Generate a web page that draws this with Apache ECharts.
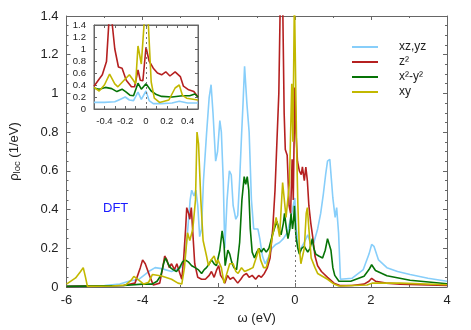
<!DOCTYPE html>
<html>
<head>
<meta charset="utf-8">
<script src="https://cdn.jsdelivr.net/npm/echarts@6/dist/echarts.min.js"></script>
<style>
  html, body { margin: 0; padding: 0; background: #fff; }
  #main { width: 471px; height: 330px; }
</style>
</head>
<body>
<div id="main"></div>
<script>
// series names (legend)
const names = ['xz,yz', 'z²', 'x²-y²', 'xy'];
const colors = ['#87cefa', '#b52020', '#067306', '#c2b800'];

// main panel, [omega (eV), rho]
const xzyz = [[-6,0.005],[-5,0.008],[-4.6,0.015],[-4.36,0.03],[-4.1,0.04],[-3.84,0.08],[-3.67,0.1],[-3.5,0.095],[-3.24,0.08],[-3.0,0.1],[-2.9,0.13],[-2.82,0.28],[-2.75,0.45],[-2.71,0.5],[-2.65,0.47],[-2.6,0.5],[-2.55,0.42],[-2.5,0.26],[-2.45,0.3],[-2.4,0.55],[-2.32,0.79],[-2.25,0.98],[-2.2,1.045],[-2.15,0.9],[-2.08,0.65],[-2.03,0.7],[-1.97,0.86],[-1.93,0.8],[-1.88,0.55],[-1.84,0.2],[-1.78,0.45],[-1.72,0.6],[-1.67,0.58],[-1.62,0.42],[-1.55,0.35],[-1.5,0.37],[-1.45,0.55],[-1.4,0.78],[-1.36,0.95],[-1.32,1.14],[-1.29,1.15],[-1.26,0.95],[-1.23,0.96],[-1.2,0.8],[-1.14,0.45],[-1.08,0.3],[-0.97,0.3],[-0.92,0.25],[-0.85,0.16],[-0.78,0.12],[-0.7,0.15],[-0.6,0.2],[-0.5,0.22],[-0.4,0.23],[-0.3,0.25],[-0.2,0.28],[-0.1,0.36],[-0.04,0.42],[0,0.46],[0.04,0.3],[0.1,0.2],[0.16,0.2],[0.25,0.23],[0.34,0.27],[0.42,0.22],[0.5,0.23],[0.6,0.3],[0.68,0.38],[0.75,0.48],[0.81,0.58],[0.86,0.65],[0.92,0.66],[0.96,0.56],[1.0,0.46],[1.06,0.36],[1.1,0.41],[1.13,0.4],[1.15,0.28],[1.2,0.04],[1.5,0.045],[1.8,0.09],[1.95,0.17],[2.02,0.22],[2.08,0.21],[2.2,0.14],[2.42,0.1],[2.7,0.08],[3.03,0.065],[3.5,0.045],[4,0.03]];
const z2 = [[-6,0.003],[-4.5,0.008],[-4.2,0.02],[-4.06,0.1],[-4.0,0.14],[-3.93,0.12],[-3.82,0.06],[-3.72,0.01],[-3.55,0.02],[-3.47,0.1],[-3.42,0.16],[-3.36,0.14],[-3.3,0.1],[-3.24,0.12],[-3.16,0.09],[-3.1,0.12],[-3.02,0.07],[-2.97,0.04],[-2.92,0.15],[-2.87,0.3],[-2.84,0.41],[-2.79,0.38],[-2.76,0.35],[-2.72,0.41],[-2.68,0.28],[-2.63,0.12],[-2.55,0.05],[-2.45,0.04],[-2.35,0.04],[-2.25,0.06],[-2.19,0.08],[-2.12,0.05],[-2.05,0.09],[-2.0,0.11],[-1.95,0.06],[-1.88,0.04],[-1.84,0.02],[-1.77,0.06],[-1.7,0.04],[-1.62,0.05],[-1.5,0.02],[-1.42,0.04],[-1.35,0.06],[-1.27,0.07],[-1.2,0.05],[-1.12,0.06],[-1.03,0.04],[-0.95,0.06],[-0.88,0.05],[-0.8,0.07],[-0.72,0.1],[-0.65,0.15],[-0.58,0.3],[-0.52,0.5],[-0.47,0.75],[-0.42,1.0],[-0.38,1.5],[-0.32,1.5],[-0.28,0.9],[-0.25,0.71],[-0.2,0.68],[-0.15,0.42],[-0.11,0.38],[-0.07,0.66],[-0.04,0.45],[-0.02,0.45],[0.0,1.03],[0.03,0.8],[0.07,0.65],[0.12,0.6],[0.17,0.58],[0.2,0.62],[0.25,0.55],[0.29,0.62],[0.33,0.55],[0.37,0.42],[0.42,0.33],[0.47,0.26],[0.53,0.16],[0.6,0.11],[0.7,0.08],[0.86,0.05],[1.03,0.02],[1.2,0.007],[1.5,0.008],[1.82,0.015],[1.95,0.03],[2.02,0.045],[2.12,0.03],[2.4,0.02],[2.77,0.015],[4,0.008]];
const x2y2 = [[-6,0.003],[-4.5,0.008],[-4.0,0.015],[-3.75,0.015],[-3.62,0.03],[-3.52,0.06],[-3.45,0.12],[-3.4,0.15],[-3.33,0.12],[-3.27,0.1],[-3.2,0.09],[-3.11,0.08],[-3.03,0.1],[-2.95,0.13],[-2.88,0.14],[-2.8,0.13],[-2.71,0.11],[-2.62,0.1],[-2.54,0.09],[-2.45,0.07],[-2.38,0.09],[-2.32,0.1],[-2.25,0.12],[-2.19,0.14],[-2.12,0.12],[-2.06,0.11],[-1.97,0.19],[-1.91,0.29],[-1.86,0.22],[-1.83,0.11],[-1.76,0.19],[-1.71,0.17],[-1.66,0.13],[-1.6,0.1],[-1.53,0.09],[-1.45,0.23],[-1.39,0.45],[-1.33,0.57],[-1.29,0.53],[-1.25,0.57],[-1.21,0.5],[-1.17,0.3],[-1.12,0.18],[-1.06,0.15],[-1.0,0.18],[-0.94,0.2],[-0.88,0.18],[-0.82,0.2],[-0.75,0.18],[-0.68,0.2],[-0.6,0.26],[-0.54,0.3],[-0.47,0.34],[-0.42,0.3],[-0.36,0.27],[-0.3,0.33],[-0.27,0.38],[-0.22,0.3],[-0.18,0.25],[-0.13,0.3],[-0.1,0.38],[-0.06,0.3],[-0.03,0.35],[-0.01,0.42],[0.03,0.26],[0.08,0.2],[0.12,0.17],[0.18,0.2],[0.25,0.21],[0.3,0.2],[0.34,0.18],[0.4,0.2],[0.46,0.25],[0.5,0.2],[0.55,0.17],[0.63,0.16],[0.73,0.15],[0.8,0.19],[0.86,0.25],[0.9,0.24],[0.95,0.19],[1.0,0.1],[1.05,0.06],[1.16,0.03],[1.47,0.03],[1.82,0.056],[1.95,0.09],[2.02,0.115],[2.12,0.085],[2.42,0.058],[3.03,0.035],[4,0.017]];
const xy = [[-6,0.015],[-5.76,0.047],[-5.63,0.08],[-5.56,0.1],[-5.5,0.05],[-5.45,0.003],[-4.8,0.005],[-4.45,0.01],[-4.3,0.035],[-4.23,0.055],[-4.1,0.035],[-3.97,0.015],[-3.84,0.025],[-3.74,0.065],[-3.5,0.057],[-3.24,0.04],[-3.07,0.02],[-2.97,0.015],[-2.9,0.1],[-2.82,0.28],[-2.76,0.24],[-2.68,0.3],[-2.61,0.45],[-2.57,0.8],[-2.53,0.74],[-2.47,0.45],[-2.41,0.24],[-2.32,0.16],[-2.27,0.11],[-2.2,0.14],[-2.12,0.16],[-2.06,0.12],[-2.02,0.14],[-1.93,0.1],[-1.86,0.02],[-1.8,0.06],[-1.71,0.12],[-1.62,0.12],[-1.55,0.08],[-1.49,0.07],[-1.4,0.1],[-1.32,0.08],[-1.2,0.09],[-1.1,0.1],[-1.0,0.16],[-0.95,0.2],[-0.9,0.14],[-0.82,0.1],[-0.75,0.1],[-0.67,0.16],[-0.6,0.25],[-0.49,0.36],[-0.4,0.26],[-0.32,0.54],[-0.23,0.36],[-0.14,0.54],[-0.08,1.05],[-0.05,0.75],[-0.01,1.5],[0.02,1.5],[0.05,0.7],[0.08,0.43],[0.12,0.2],[0.16,0.12],[0.25,0.2],[0.3,0.38],[0.33,0.41],[0.37,0.3],[0.43,0.15],[0.53,0.1],[0.6,0.07],[0.86,0.04],[1.03,0.015],[1.16,0.005],[1.9,0.01],[2.03,0.02],[2.77,0.02],[4,0.012]];

// inset panel (-0.5 .. 0.5)
const xzyzIn = [[-0.5,0.11],[-0.4,0.11],[-0.3,0.12],[-0.25,0.16],[-0.2,0.2],[-0.16,0.15],[-0.12,0.14],[-0.077,0.28],[-0.045,0.16],[0.0,0.3],[0.03,0.14],[0.07,0.09],[0.15,0.09],[0.25,0.1],[0.32,0.13],[0.4,0.1],[0.5,0.1]];
const z2In = [[-0.5,0.38],[-0.45,0.5],[-0.42,0.57],[-0.38,0.79],[-0.355,1.5],[-0.33,1.5],[-0.3,1.0],[-0.265,0.7],[-0.23,0.68],[-0.19,0.48],[-0.14,0.37],[-0.11,0.37],[-0.077,0.65],[-0.055,0.48],[-0.03,0.47],[0.0,1.03],[0.03,0.8],[0.07,0.68],[0.11,0.6],[0.15,0.57],[0.19,0.62],[0.23,0.55],[0.28,0.62],[0.33,0.54],[0.36,0.38],[0.41,0.32],[0.46,0.29],[0.5,0.2]];
const x2y2In = [[-0.5,0.35],[-0.45,0.33],[-0.39,0.36],[-0.33,0.34],[-0.28,0.29],[-0.23,0.33],[-0.19,0.28],[-0.155,0.23],[-0.12,0.22],[-0.077,0.43],[-0.045,0.33],[0.0,0.42],[0.05,0.3],[0.1,0.24],[0.15,0.21],[0.25,0.2],[0.35,0.22],[0.42,0.22],[0.47,0.25],[0.5,0.2]];
const xyIn = [[-0.5,0.36],[-0.45,0.3],[-0.4,0.4],[-0.35,0.58],[-0.3,0.42],[-0.27,0.37],[-0.2,0.5],[-0.16,0.57],[-0.13,0.5],[-0.1,0.42],[-0.077,1.05],[-0.045,0.75],[-0.015,1.5],[0.02,1.5],[0.05,0.45],[0.08,0.18],[0.13,0.11],[0.22,0.15],[0.28,0.35],[0.32,0.4],[0.35,0.23],[0.39,0.18],[0.5,0.15]];

const mainData = [xzyz, z2, x2y2, xy];
const insetData = [xzyzIn, z2In, x2y2In, xyIn];

const font = 'Liberation Sans';
const axisColor = '#666';

let myChart = echarts.init(document.getElementById('main'));

function frame() {
  return { show: true, onZero: false, lineStyle: { color: axisColor, width: 1 } };
}

// axis without labels, only the frame line and inward ticks (top / right sides)
function mirrorAxis(gridIndex, position, min, max, interval, minor, tickLen) {
  return {
    type: 'value', gridIndex: gridIndex, position: position, min: min, max: max, interval: interval,
    axisLine: frame(), axisLabel: { show: false }, splitLine: { show: false },
    axisTick: { inside: true, length: tickLen, lineStyle: { color: axisColor } },
    minorTick: { show: minor > 0, splitNumber: minor || 5, length: 2, lineStyle: { color: axisColor } }
  };
}

let series = [];
mainData.forEach((d, i) => {
  let s = {
    name: names[i], type: 'line', xAxisIndex: 0, yAxisIndex: 0, data: d,
    showSymbol: false, symbol: 'none', color: colors[i],
    lineStyle: { width: 1.6, color: colors[i] }, z: 3
  };
  if (i === 0) {
    s.markLine = {
      silent: true, symbol: 'none', label: { show: false },
      lineStyle: { color: '#777', type: [2, 3], width: 1 },
      data: [[{ coord: [0, 0] }, { coord: [0, 0.3] }]]
    };
  }
  series.push(s);
});
insetData.forEach((d, i) => {
  let s = {
    name: names[i], type: 'line', xAxisIndex: 2, yAxisIndex: 2, data: d,
    showSymbol: false, symbol: 'none', color: colors[i],
    lineStyle: { width: 1.6, color: colors[i] }, z: 3
  };
  if (i === 0) {
    s.markLine = {
      silent: true, symbol: 'none', label: { show: false },
      lineStyle: { color: '#777', type: [2, 3], width: 1 },
      data: [{ xAxis: 0 }]
    };
  }
  series.push(s);
});

let option = {
  backgroundColor: '#fff',
  animation: false,
  textStyle: { fontFamily: font },
  grid: [
    { left: 64, right: 24, top: 16, bottom: 42 },
    { left: 94, top: 25, width: 104, height: 84, show: true,
      backgroundColor: 'rgba(0,0,0,0)', borderColor: axisColor, borderWidth: 1 }
  ],
  legend: {
    data: names,
    orient: 'vertical', left: 347, top: 36,
    icon: 'rect', itemWidth: 26, itemHeight: 2, itemGap: 3,
    textStyle: { fontFamily: font, fontSize: 12, color: '#222', padding: [0, 0, 0, 16] }
  },
  xAxis: [
    {
      type: 'value', gridIndex: 0, min: -6, max: 4, interval: 2,
      name: 'ω (eV)', nameLocation: 'middle', nameGap: 25,
      nameTextStyle: { fontFamily: font, fontSize: 13, color: '#222' },
      axisLine: frame(),
      axisTick: { inside: true, length: 4, lineStyle: { color: axisColor } },
      minorTick: { show: true, splitNumber: 2, length: 2, lineStyle: { color: axisColor } },
      axisLabel: { fontFamily: font, fontSize: 13, color: '#222', margin: 7 },
      splitLine: { show: false }
    },
    mirrorAxis(0, 'top', -6, 4, 2, 2, 4),
    {
      type: 'value', gridIndex: 1, position: 'bottom', min: -0.5, max: 0.5, interval: 0.1,
      axisLine: frame(),
      axisTick: { inside: true, length: 3, lineStyle: { color: axisColor } },
      axisLabel: {
        fontFamily: font, fontSize: 9.5, color: '#222', margin: 7,
        formatter: v => (Math.round(v * 10) % 2 === 0 && Math.abs(v) < 0.45) ? String(Math.round(v * 10) / 10) : ''
      },
      splitLine: { show: false }
    },
    mirrorAxis(1, 'top', -0.5, 0.5, 0.1, 0, 3)
  ],
  yAxis: [
    {
      type: 'value', gridIndex: 0, min: 0, max: 1.4, interval: 0.2,
      name: '{r|ρ}{s|loc}{r| (1/eV)}', nameLocation: 'middle', nameGap: 44, nameRotate: 90,
      nameTextStyle: {
        color: '#222',
        rich: {
          r: { fontFamily: font, fontSize: 13, lineHeight: 16, color: '#222' },
          s: { fontFamily: font, fontSize: 9.5, lineHeight: 8, verticalAlign: 'bottom', color: '#222' }
        }
      },
      axisLine: frame(),
      axisTick: { inside: true, length: 4, lineStyle: { color: axisColor } },
      minorTick: { show: true, splitNumber: 4, length: 2, lineStyle: { color: axisColor } },
      axisLabel: { fontFamily: font, fontSize: 13, color: '#222', margin: 8 },
      splitLine: { show: false }
    },
    mirrorAxis(0, 'right', 0, 1.4, 0.2, 4, 4),
    {
      type: 'value', gridIndex: 1, position: 'left', min: 0, max: 1.4, interval: 0.2,
      axisLine: frame(),
      axisTick: { inside: true, length: 3, lineStyle: { color: axisColor } },
      axisLabel: { fontFamily: font, fontSize: 9.5, color: '#222', margin: 8 },
      splitLine: { show: false }
    },
    mirrorAxis(1, 'right', 0, 1.4, 0.2, 0, 3)
  ],
  graphic: [
    { type: 'text', left: 103, top: 202, z: 10,
      style: { text: 'DFT', fill: '#1a1aff', font: '13px "Liberation Sans"' } }
  ],
  series: series
};
myChart.setOption(option);
</script>
</body>
</html>
